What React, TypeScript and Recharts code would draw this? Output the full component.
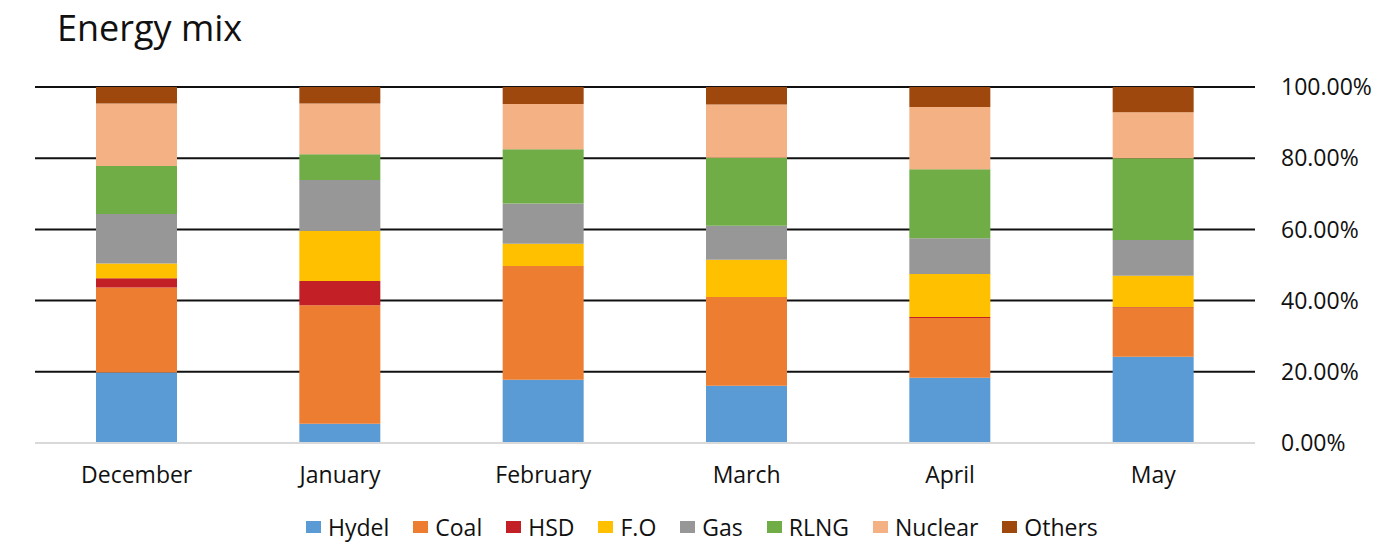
import React from 'react';
import { BarChart, Bar, XAxis, YAxis, CartesianGrid, ReferenceLine } from 'recharts';

const months = ['December', 'January', 'February', 'March', 'April', 'May'];

// share of generation, % per month
const hydel = [19.8, 5.4, 17.8, 16.1, 18.3, 24.2];
const coal = [23.9, 33.3, 31.9, 24.9, 16.8, 13.7];
const hsd = [2.6, 6.8, 0, 0, 0.3, 0.2];
const fo = [4.1, 14.1, 6.3, 10.5, 12.1, 8.9];
const gas = [13.9, 14.3, 11.3, 9.5, 10.0, 10.0];
const rlng = [13.5, 7.2, 15.2, 19.1, 19.4, 23.0];
const nuclear = [17.6, 14.3, 12.7, 15.0, 17.5, 12.9];
const others = [4.6, 4.6, 4.8, 4.9, 5.6, 7.1];

const yTicks = [0, 0.2, 0.4, 0.6, 0.8, 1];

const series = [
  { key: 'Hydel', values: hydel, color: '#5B9BD5' },
  { key: 'Coal', values: coal, color: '#ED7D31' },
  { key: 'HSD', values: hsd, color: '#C21F27' },
  { key: 'F.O', values: fo, color: '#FFC000' },
  { key: 'Gas', values: gas, color: '#979797' },
  { key: 'RLNG', values: rlng, color: '#70AD47' },
  { key: 'Nuclear', values: nuclear, color: '#F4B183' },
  { key: 'Others', values: others, color: '#9E480E' },
];

const data = months.map((month, i) => {
  const row: Record<string, string | number> = { month };
  series.forEach(s => {
    row[s.key] = s.values[i];
  });
  return row;
});

const font = '"Open Sans", sans-serif';

const App = () => {
  return (
    <div style={{ position: 'absolute', left: 0, top: 0, width: 1392, height: 549, background: '#fff', fontFamily: font }}>
      <div style={{ position: 'absolute', left: 57, top: 10, fontSize: 36, lineHeight: 1, color: '#111' }}>
        Energy mix
      </div>
      <BarChart
        width={1392}
        height={549}
        data={data}
        stackOffset="expand"
        barCategoryGap="30%"
        margin={{ top: 87, right: 0, bottom: 66, left: 35 }}
      >
        <CartesianGrid vertical={false} stroke="#111" strokeWidth={2} />
        <XAxis
          dataKey="month"
          axisLine={false}
          tickLine={false}
          tickSize={0}
          tickMargin={24}
          height={40}
          tick={{ fill: '#111', fontSize: 23, fontFamily: font }}
        />
        <YAxis
          orientation="right"
          width={137}
          domain={[0, 1]}
          ticks={yTicks}
          axisLine={false}
          tickLine={false}
          tickSize={0}
          tickMargin={26}
          tickFormatter={(v: number) => (v * 100).toFixed(2) + '%'}
          tick={{ fill: '#111', fontSize: 23, fontFamily: font }}
        />
        <ReferenceLine y={0} stroke="#d9d9d9" strokeWidth={2} />
        {series.map(s => (
          <Bar key={s.key} dataKey={s.key} stackId="a" fill={s.color} isAnimationActive={false} />
        ))}
      </BarChart>
      <div
        style={{
          position: 'absolute',
          left: 306,
          top: 512,
          display: 'flex',
          fontSize: 23,
          color: '#111',
          lineHeight: '30px',
        }}
      >
        {series.map(s => (
          <div key={s.key} style={{ display: 'flex', alignItems: 'center', marginRight: 24 }}>
            <span style={{ display: 'inline-block', width: 15, height: 12, background: s.color, marginRight: 7 }} />
            <span>{s.key}</span>
          </div>
        ))}
      </div>
    </div>
  );
};

export default App;
